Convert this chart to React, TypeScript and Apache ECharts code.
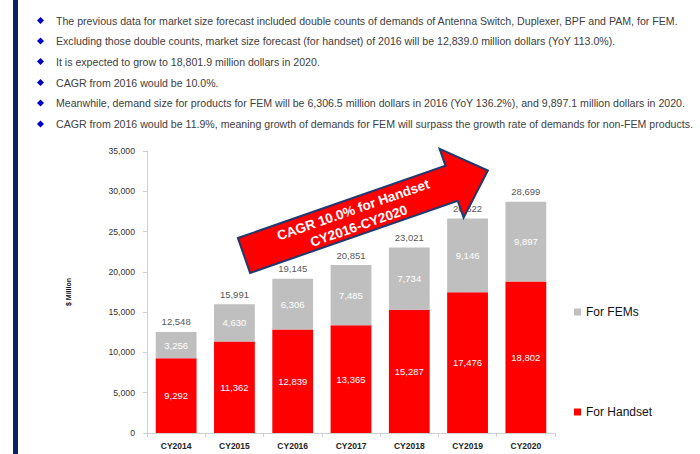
import React, { useEffect, useRef } from "react";
import * as echarts from "echarts";

const categories = ["CY2014", "CY2015", "CY2016", "CY2017", "CY2018", "CY2019", "CY2020"];
const handset = [9292, 11362, 12839, 13365, 15287, 17476, 18802];
const fems = [3256, 4630, 6306, 7485, 7734, 9146, 9897];
const totals = [12548, 15991, 19145, 20851, 23021, 26622, 28699];
const seriesNames = ["For FEMs", "For Handset"];
const bullets = [
  "The previous data for market size forecast included double counts of demands of Antenna Switch, Duplexer, BPF and PAM, for FEM.",
  "Excluding those double counts, market size forecast (for handset) of 2016 will be 12,839.0 million dollars (YoY 113.0%).",
  "It is expected to grow to 18,801.9 million dollars in 2020.",
  "CAGR from 2016 would be 10.0%.",
  "Meanwhile, demand size for products for FEM will be 6,306.5 million dollars in 2016 (YoY 136.2%), and 9,897.1 million dollars in 2020.",
  "CAGR from 2016 would be 11.9%, meaning growth of demands for FEM will surpass the growth rate of demands for non-FEM products.",
];
const arrowText = "CAGR 10.0% for Handset\nCY2016-CY2020";

const FONT = "'Liberation Sans', Arial, sans-serif";
const fmt = (v: number) => v.toLocaleString("en-US");

export default function App() {
  const ref = useRef<HTMLDivElement>(null);
  useEffect(() => {
    document.body.style.margin = "0";
    const chart = echarts.init(ref.current!, null, { renderer: "svg" });
    const bulletYs = [20.5, 41, 61.5, 82.5, 103, 124];
    const graphics: any[] = [
      { type: "rect", shape: { x: 13, y: 0, width: 5, height: 454 }, style: { fill: "#0b2160" }, z: 10 },
    ];
    bullets.forEach((t, i) => {
      const y = bulletYs[i];
      graphics.push({
        type: "polygon",
        shape: { points: [[40.5, y - 3.5], [44, y], [40.5, y + 3.5], [37, y]] },
        style: { fill: "#0000cc" },
        z: 10,
      });
      graphics.push({
        type: "text",
        x: 56,
        y: y,
        style: { text: t, fill: "#404040", font: `10.6px ${FONT}`, verticalAlign: "middle" },
        z: 10,
      });
    });
    // arrow
    graphics.push({
      type: "polygon",
      shape: {
        points: [
          [237.9, 238],
          [445.5, 165.7],
          [439.6, 148.8],
          [487.9, 170.5],
          [463.6, 217.6],
          [457.7, 200.7],
          [250.1, 273],
        ],
      },
      style: { fill: "#ff0000", stroke: "#1f3a6e", lineWidth: 2, lineJoin: "miter" },
      z: 20,
    });
    graphics.push({
      type: "text",
      x: 356,
      y: 218,
      rotation: 0.335,
      style: {
        text: arrowText,
        fill: "#ffffff",
        font: `bold 13.5px ${FONT}`,
        align: "center",
        verticalAlign: "middle",
        lineHeight: 17,
      },
      z: 21,
    });

    chart.setOption({
      animation: false,
      backgroundColor: "#ffffff",
      textStyle: { fontFamily: FONT },
      grid: { left: 147, right: 145, top: 151, bottom: 21, containLabel: false },
      legend: {
        data: seriesNames,
        orient: "vertical",
        left: 569,
        top: 300,
        itemWidth: 7,
        itemHeight: 7,
        itemGap: 86,
        icon: "rect",
        textStyle: { fontSize: 12, color: "#111", fontFamily: FONT, lineHeight: 14 },
      },
      xAxis: {
        type: "category",
        data: categories,
        axisLine: { lineStyle: { color: "#d0d0d0" } },
        axisTick: { show: true, length: 4, lineStyle: { color: "#d0d0d0" } },
        axisLabel: { color: "#222", fontSize: 8.5, fontWeight: "bold", margin: 8 },
      },
      yAxis: {
        type: "value",
        min: 0,
        max: 35000,
        interval: 5000,
        name: "$ Million",
        nameLocation: "middle",
        nameRotate: 90,
        nameGap: 75,
        nameTextStyle: { fontSize: 7, fontWeight: "bold", color: "#111" },
        splitLine: { show: false },
        axisLine: { show: true, lineStyle: { color: "#d0d0d0" } },
        axisTick: { show: true, length: 4, lineStyle: { color: "#d0d0d0" } },
        axisLabel: { color: "#333", fontSize: 8.7, margin: 12, formatter: (v: number) => fmt(v) },
      },
      series: [
        {
          name: "Total",
          type: "bar",
          data: totals,
          barGap: "-100%",
          barCategoryGap: "30%",
          itemStyle: { color: "rgba(0,0,0,0)" },
          silent: true,
          z: 1,
          label: {
            show: true,
            position: "top",
            distance: 5,
            color: "#595959",
            fontSize: 9.5,
            formatter: (p: any) => fmt(p.value),
          },
        },
        {
          name: "For Handset",
          type: "bar",
          stack: "a",
          data: handset,
          barGap: "-100%",
          barCategoryGap: "30%",
          itemStyle: { color: "#ff0000" },
          z: 2,
          label: { show: true, position: "inside", color: "#fff", fontSize: 9.5, formatter: (p: any) => fmt(p.value) },
        },
        {
          name: "For FEMs",
          type: "bar",
          stack: "a",
          data: fems,
          barGap: "-100%",
          barCategoryGap: "30%",
          itemStyle: { color: "#bfbfbf" },
          z: 2,
          label: { show: true, position: "inside", color: "#fff", fontSize: 9.5, formatter: (p: any) => fmt(p.value) },
        },
      ],
      graphic: graphics,
    });
    return () => chart.dispose();
  }, []);
  return <div ref={ref} style={{ width: 700, height: 454 }} />;
}
